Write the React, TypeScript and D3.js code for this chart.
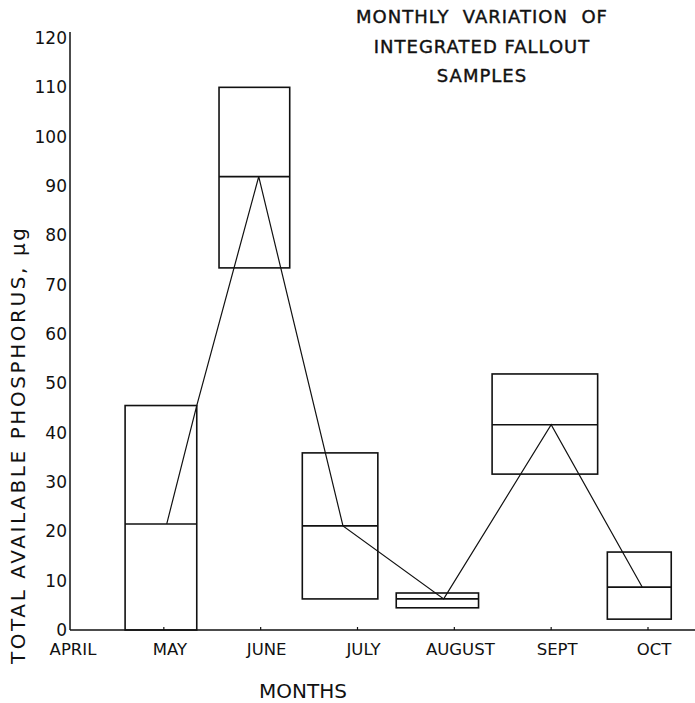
import React, { useEffect, useRef } from 'react';
import * as d3 from 'd3';

const months = ['APRIL', 'MAY', 'JUNE', 'JULY', 'AUGUST', 'SEPT', 'OCT'];
const yTicks = [0, 10, 20, 30, 40, 50, 60, 70, 80, 90, 100, 110, 120];

// sampling boxes (start/end in month units, APRIL = 0)
const boxStart = [0.6, 1.57, 2.43, 3.4, 4.39, 5.58];
const boxEnd = [1.34, 2.3, 3.21, 4.25, 5.48, 6.24];
const boxLow = [0, 73.4, 6.3, 4.5, 31.6, 2.2];
const boxMid = [21.5, 91.9, 21.1, 6.3, 41.6, 8.7];
const boxHigh = [45.5, 110, 35.9, 7.5, 51.9, 15.8];

// connecting line
const lineMonth = [1.03, 1.34, 1.98, 2.85, 3.89, 5.0, 5.94];
const lineValue = [21.5, 45.5, 91.9, 21.1, 6.3, 41.6, 8.7];

const titleLines = ['MONTHLY  VARIATION  OF', 'INTEGRATED FALLOUT', 'SAMPLES'];

export default function App() {
  const ref = useRef<SVGSVGElement>(null);

  useEffect(() => {
    const svg = d3.select(ref.current);
    svg.selectAll('*').remove();
    const font = 'DejaVu Sans, sans-serif';

    const x = d3.scaleLinear().domain([0, 6]).range([67, 648]);
    const xMonth = d3.scalePoint<string>().domain(months).range([67, 648]);
    const y = d3.scaleLinear().domain([0, 120]).range([630, 38]);

    const g = svg.append('g');

    // y axis
    g.append('line')
      .attr('x1', 70).attr('x2', 70)
      .attr('y1', 32).attr('y2', y(0))
      .attr('stroke', '#111').attr('stroke-width', 1.5);

    g.selectAll('.ytick')
      .data(yTicks)
      .join('text')
      .attr('class', 'ytick')
      .attr('x', 67)
      .attr('y', d => y(d))
      .attr('dy', '0.36em')
      .attr('text-anchor', 'end')
      .attr('font-family', font)
      .attr('font-size', 17)
      .attr('fill', '#111')
      .text(d => d);

    // x axis
    g.append('line')
      .attr('x1', 70).attr('x2', 695)
      .attr('y1', y(0)).attr('y2', y(0))
      .attr('stroke', '#111').attr('stroke-width', 1.5);

    g.selectAll('.xtickmark')
      .data(months.slice(1))
      .join('line')
      .attr('class', 'xtickmark')
      .attr('x1', d => xMonth(d)!).attr('x2', d => xMonth(d)!)
      .attr('y1', y(0)).attr('y2', y(0) - 3)
      .attr('stroke', '#111').attr('stroke-width', 1.2);

    g.selectAll('.xtick')
      .data(months)
      .join('text')
      .attr('class', 'xtick')
      .attr('x', d => xMonth(d)! + 6)
      .attr('y', 655)
      .attr('text-anchor', 'middle')
      .attr('font-family', font)
      .attr('font-size', 16.5)
      .attr('fill', '#111')
      .text(d => d);

    // boxes
    const idx = d3.range(boxStart.length);
    g.selectAll('.box')
      .data(idx)
      .join('rect')
      .attr('class', 'box')
      .attr('x', i => x(boxStart[i]))
      .attr('width', i => x(boxEnd[i]) - x(boxStart[i]))
      .attr('y', i => y(boxHigh[i]))
      .attr('height', i => y(boxLow[i]) - y(boxHigh[i]))
      .attr('fill', 'none')
      .attr('stroke', '#111')
      .attr('stroke-width', 1.6);

    g.selectAll('.mid')
      .data(idx)
      .join('line')
      .attr('class', 'mid')
      .attr('x1', i => x(boxStart[i]))
      .attr('x2', i => x(boxEnd[i]))
      .attr('y1', i => y(boxMid[i]))
      .attr('y2', i => y(boxMid[i]))
      .attr('stroke', '#111')
      .attr('stroke-width', 1.6);

    const line = d3.line<number>()
      .x(i => x(lineMonth[i]))
      .y(i => y(lineValue[i]));

    g.append('path')
      .attr('d', line(d3.range(lineMonth.length)))
      .attr('fill', 'none')
      .attr('stroke', '#111')
      .attr('stroke-width', 1.2);

    // titles
    g.selectAll('.title')
      .data(titleLines)
      .join('text')
      .attr('class', 'title')
      .attr('x', 482)
      .attr('y', (d, i) => 23 + i * 29.5)
      .attr('text-anchor', 'middle')
      .attr('font-family', font)
      .attr('font-size', 18)
      .attr('letter-spacing', 1)
      .attr('stroke', '#111')
      .attr('stroke-width', 0.4)
      .attr('fill', '#111')
      .attr('xml:space', 'preserve')
      .text(d => d);

    g.append('text')
      .attr('x', 303)
      .attr('y', 698)
      .attr('text-anchor', 'middle')
      .attr('font-family', font)
      .attr('font-size', 20)
      .attr('fill', '#111')
      .text('MONTHS');

    g.append('text')
      .attr('transform', 'translate(25, 446) rotate(-90)')
      .attr('text-anchor', 'middle')
      .attr('font-family', font)
      .attr('font-size', 20)
      .attr('fill', '#111')
      .attr('textLength', 436)
      .attr('lengthAdjust', 'spacing')
      .text('TOTAL AVAILABLE PHOSPHORUS, μg');
  }, []);

  return (
    <svg ref={ref} width={695} height={703}
      style={{ position: 'absolute', left: 0, top: 0, background: '#fff' }} />
  );
}
